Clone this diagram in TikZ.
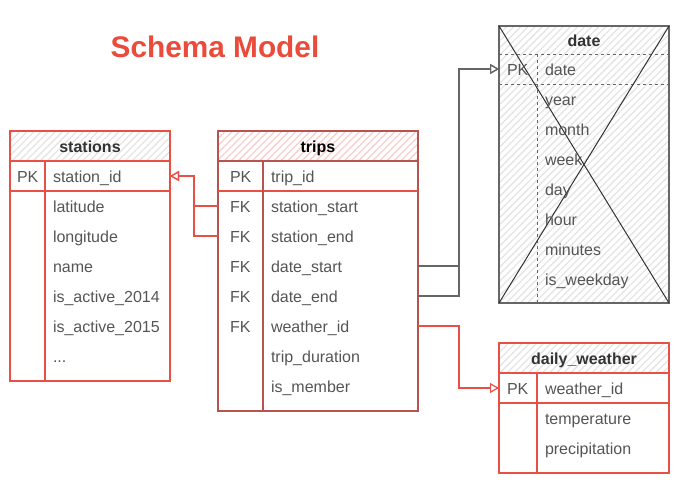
\documentclass[tikz,border=0pt]{standalone}
\usepackage{fontspec}
\setmainfont{Liberation Sans}
\usetikzlibrary{patterns.meta,arrows.meta}
\definecolor{redA}{RGB}{232,80,70}
\definecolor{tripred}{RGB}{184,84,80}
\definecolor{pinkhatch}{RGB}{248,206,204}
\definecolor{grayhatch}{RGB}{228,228,228}
\definecolor{dategray}{RGB}{102,102,102}
\definecolor{txt}{RGB}{85,85,85}
\definecolor{hdrtxt}{RGB}{51,51,51}
\definecolor{titlered}{RGB}{234,75,59}
\begin{document}
\begin{tikzpicture}[x=1pt,y=-1pt,
  every node/.style={inner sep=0pt, outer sep=0pt},
  txtstyle/.style={font=\fontsize{16}{19}\selectfont, text=txt, text height=13.5pt, text depth=0pt},
  fld/.style={txtstyle, anchor=west},
  keytxt/.style={txtstyle, anchor=west},
  hdr/.style={font=\fontsize{16}{19}\selectfont\bfseries, text=hdrtxt, text height=13.5pt, text depth=0pt, line width=1.2pt, anchor=north west, minimum height=30pt},
  hatchG/.style={pattern={Lines[angle=45,distance=5pt,line width=1.3pt]}, pattern color=grayhatch},
  hatchP/.style={pattern={Lines[angle=45,distance=5pt,line width=1.3pt]}, pattern color=pinkhatch},
  bodybox/.style={line width=1.2pt, anchor=north west},
  rowsp/.style={anchor=west, minimum height=30pt},
  conn/.style={line width=1.2pt, -{Triangle[open, length=9pt, width=10pt]}},
  titlestyle/.style={font=\fontsize{29.8}{34}\selectfont\bfseries, text=titlered}
]
\useasboundingbox (0,0) rectangle (681,484);

% title
\node[titlestyle] (title) at (215,47) {Schema Model};

% ---------------- stations
\node[hdr, draw=redA, hatchG, minimum width=160pt] (st-h) at (10,131) {stations};
\node[bodybox, draw=redA, minimum width=160pt, minimum height=220pt] (st-b) at (10,161) {};
\draw[redA, line width=1.2pt] (10,191) -- (170,191);
\draw[redA, line width=1.2pt] (45,161) -- (45,381);
\node[rowsp, minimum width=160pt] (st-pk) at (10,176) {};
\node[keytxt] (st-k1) at (17,176) {PK};
\node[fld] (st-f1) at (53,176) {station\_id};
\node[fld] (st-f2) at (53,206) {latitude};
\node[fld] (st-f3) at (53,236) {longitude};
\node[fld] (st-f4) at (53,266) {name};
\node[fld] (st-f5) at (53,296) {is\_active\_2014};
\node[fld] (st-f6) at (53,326) {is\_active\_2015};
\node[fld] (st-f7) at (53,356) {...};

% ---------------- trips
\node[hdr, draw=tripred, hatchP, minimum width=200pt, text=black] (tr-h) at (218,131) {trips};
\node[bodybox, draw=tripred, minimum width=200pt, minimum height=250pt] (tr-b) at (218,161) {};
\draw[redA, line width=1.2pt] (218,191) -- (418,191);
\draw[tripred, line width=1.2pt] (263,161) -- (263,411);
\node[rowsp, minimum width=200pt] (tr-ss) at (218,206) {};
\node[rowsp, minimum width=200pt] (tr-se) at (218,236) {};
\node[rowsp, minimum width=200pt] (tr-ds) at (218,266) {};
\node[rowsp, minimum width=200pt] (tr-de) at (218,296) {};
\node[rowsp, minimum width=200pt] (tr-w) at (218,326) {};
\node[keytxt] (tr-k1) at (230,176) {PK};
\node[keytxt] (tr-k2) at (230,206) {FK};
\node[keytxt] (tr-k3) at (230,236) {FK};
\node[keytxt] (tr-k4) at (230,266) {FK};
\node[keytxt] (tr-k5) at (230,296) {FK};
\node[keytxt] (tr-k6) at (230,326) {FK};
\node[fld] (tr-f1) at (271,176) {trip\_id};
\node[fld] (tr-f2) at (271,206) {station\_start};
\node[fld] (tr-f3) at (271,236) {station\_end};
\node[fld] (tr-f4) at (271,266) {date\_start};
\node[fld] (tr-f5) at (271,296) {date\_end};
\node[fld] (tr-f6) at (271,326) {weather\_id};
\node[fld] (tr-f7) at (271,356) {trip\_duration};
\node[fld] (tr-f8) at (271,386) {is\_member};

% ---------------- date
\node[bodybox, draw=dategray, hatchG, minimum width=170pt, minimum height=277pt] (dt) at (499,26) {};
\node[hdr, minimum width=170pt, minimum height=28pt] (dt-h) at (499,26) {date};
\draw[dategray, line width=0.8pt, dashed] (499,54) -- (669,54);
\draw[dategray, line width=0.8pt, dashed] (499,84) -- (669,84);
\draw[dategray, line width=0.8pt, dashed] (537,54) -- (537,303);
\draw[hdrtxt, line width=1pt] (dt.north west) -- (dt.south east);
\draw[hdrtxt, line width=1pt] (dt.north east) -- (dt.south west);
\node[rowsp, minimum width=170pt] (dt-pk) at (499,69) {};
\node[keytxt] (dt-k1) at (507,69) {PK};
\node[fld] (dt-f1) at (545,69) {date};
\node[fld] (dt-f2) at (545,99) {year};
\node[fld] (dt-f3) at (545,129) {month};
\node[fld] (dt-f4) at (545,159) {week};
\node[fld] (dt-f5) at (545,189) {day};
\node[fld] (dt-f6) at (545,219) {hour};
\node[fld] (dt-f7) at (545,249) {minutes};
\node[fld] (dt-f8) at (545,279) {is\_weekday};

% ---------------- daily_weather
\node[hdr, draw=redA, hatchG, minimum width=170pt] (dw-h) at (499,343) {daily\_weather};
\node[bodybox, draw=redA, minimum width=170pt, minimum height=100pt] (dw-b) at (499,373) {};
\draw[redA, line width=1.2pt] (499,403) -- (669,403);
\draw[redA, line width=1.2pt] (537,373) -- (537,473);
\node[rowsp, minimum width=170pt] (dw-pk) at (499,388) {};
\node[keytxt] (dw-k1) at (507,388) {PK};
\node[fld] (dw-f1) at (545,388) {weather\_id};
\node[fld] (dw-f2) at (545,418) {temperature};
\node[fld] (dw-f3) at (545,448) {precipitation};

% ---------------- connectors
\draw[conn, redA] (tr-ss.west) -- ++(-24,0) |- (st-pk.east);
\draw[conn, redA] (tr-se.west) -- ++(-24,0) |- (st-pk.east);
\draw[conn, dategray] (tr-ds.east) -- ++(41,0) |- (dt-pk.west);
\draw[conn, dategray] (tr-de.east) -- ++(41,0) |- (dt-pk.west);
\draw[conn, redA] (tr-w.east) -- ++(41,0) |- (dw-pk.west);
\end{tikzpicture}
\end{document}
